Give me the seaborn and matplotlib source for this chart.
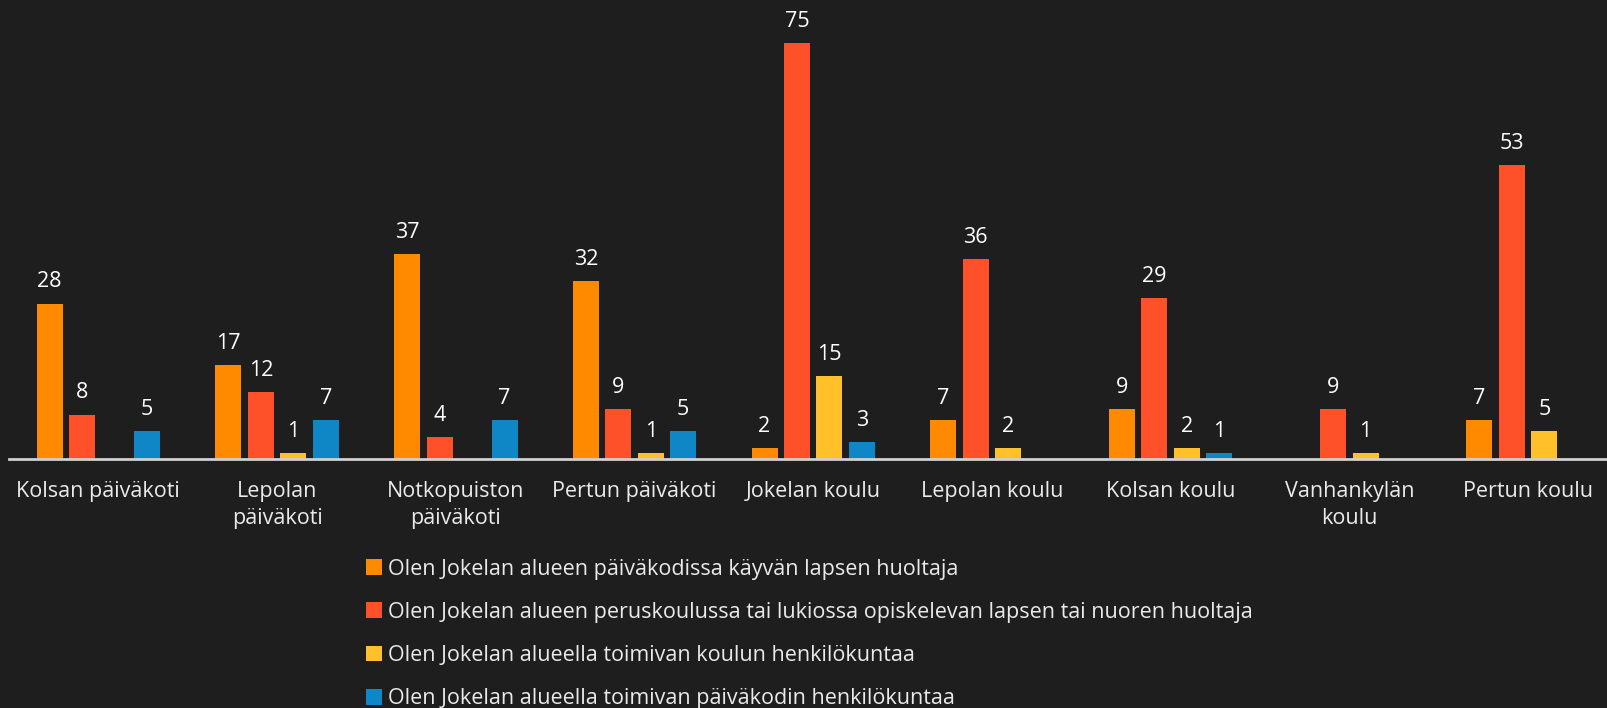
import matplotlib
matplotlib.use("Agg")
import matplotlib.pyplot as plt
import seaborn as sns
import pandas as pd
import numpy as np
from matplotlib.patches import Patch

categories = ["Kolsan päiväkoti", "Lepolan päiväkoti", "Notkopuiston päiväkoti",
              "Pertun päiväkoti", "Jokelan koulu", "Lepolan koulu", "Kolsan koulu",
              "Vanhankylän koulu", "Pertun koulu"]
tick_labels = ["Kolsan päiväkoti", "Lepolan\npäiväkoti", "Notkopuiston\npäiväkoti",
               "Pertun päiväkoti", "Jokelan koulu", "Lepolan koulu", "Kolsan koulu",
               "Vanhankylän\nkoulu", "Pertun koulu"]
series = ["Olen Jokelan alueen päiväkodissa käyvän lapsen huoltaja",
          "Olen Jokelan alueen peruskoulussa tai lukiossa opiskelevan lapsen tai nuoren huoltaja",
          "Olen Jokelan alueella toimivan koulun henkilökuntaa",
          "Olen Jokelan alueella toimivan päiväkodin henkilökuntaa"]
s1 = [28, 17, 37, 32, 2, 7, 9, None, 7]
s2 = [8, 12, 4, 9, 75, 36, 29, 9, 53]
s3 = [None, 1, None, 1, 15, 2, 2, 1, 5]
s4 = [5, 7, 7, 5, 3, None, 1, None, None]
colors = ["#FF8A00", "#FF5129", "#FFC02A", "#0F86C5"]

rows = []
for name, vals in zip(series, [s1, s2, s3, s4]):
    for c, v in zip(categories, vals):
        if v is not None:
            rows.append({"Kohde": c, "Ryhmä": name, "Arvo": v})
df = pd.DataFrame(rows)

bg = "#1E1E1E"
sns.set_theme(style="dark")
plt.rcParams["font.family"] = ["Open Sans", "DejaVu Sans"]

fig = plt.figure(figsize=(16.08, 7.08), dpi=100, facecolor=bg)
ax = fig.add_axes([9/1608, 1 - 459/708, 1 - 9/1608, 459/708])
ax.set_facecolor(bg)

sns.barplot(data=df, x="Kohde", y="Arvo", hue="Ryhmä", order=categories,
            hue_order=series, palette=colors, width=0.727, gap=0.2,
            ax=ax, legend=False, linewidth=0, saturation=1)

for cont in ax.containers:
    ax.bar_label(cont, labels=[f"{int(v)}" for v in cont.datavalues],
                 padding=8, color="white", fontsize=15.5)

ax.set_xlim(-0.5, 8.447)
ax.set_ylim(0, 82.7)
ax.set_xticks(range(len(categories)))
ax.set_xticklabels(tick_labels, color="#EAEAEA", fontsize=15.5, linespacing=1.35)
ax.tick_params(axis="x", length=0, pad=16)
ax.set_yticks([])
ax.set_xlabel("")
ax.set_ylabel("")
for s in ["top", "right", "left"]:
    ax.spines[s].set_visible(False)
ax.spines["bottom"].set_visible(True)
ax.spines["bottom"].set_color("#D0D0D0")
ax.spines["bottom"].set_linewidth(2)
ax.grid(False)

handles = [Patch(facecolor=c, edgecolor="none") for c in colors]
leg = fig.legend(handles, series, loc="upper left",
                 bbox_to_anchor=(357/1608, 1 - 550/708), frameon=False,
                 fontsize=15.5, labelcolor="#EAEAEA", handlelength=0.75,
                 handleheight=0.75, handletextpad=0.3, labelspacing=1.03,
                 borderaxespad=0)

fig.savefig("out.png", dpi=100, facecolor=bg)
